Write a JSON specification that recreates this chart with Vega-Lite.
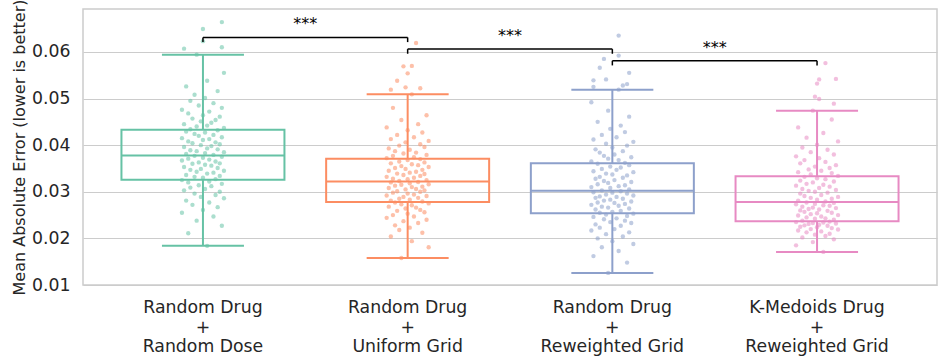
{
"$schema": "https://vega.github.io/schema/vega-lite/v6.json",
"width": 854, "height": 276,
"autosize": {"type": "none"},
"padding": {"left": 83, "top": 9, "right": 10, "bottom": 79},
"background": "white",
"config": {
  "font": "DejaVu Sans",
  "view": {"stroke": "#cccccc", "strokeWidth": 1.5},
  "axis": {"labelColor": "#262626", "titleColor": "#262626", "domain": false, "ticks": false, "tickSize": 0}
},
"datasets": {
"pts": [
{"g":"A","v":0.0184,"j":2},{"g":"A","v":0.0211,"j":-7},{"g":"A","v":0.0227,"j":9},{"g":"A","v":0.0238,"j":-3},{"g":"A","v":0.0247,"j":5},{"g":"A","v":0.0255,"j":-10},{"g":"A","v":0.0261,"j":0},{"g":"A","v":0.0267,"j":7},{"g":"A","v":0.0272,"j":-5},{"g":"A","v":0.0277,"j":3},
{"g":"A","v":0.0281,"j":-8},{"g":"A","v":0.0286,"j":10},{"g":"A","v":0.0289,"j":-1},{"g":"A","v":0.0293,"j":6},{"g":"A","v":0.0296,"j":-4},{"g":"A","v":0.0300,"j":8},{"g":"A","v":0.0303,"j":-9},{"g":"A","v":0.0306,"j":1},{"g":"A","v":0.0309,"j":-6},{"g":"A","v":0.0312,"j":4},
{"g":"A","v":0.0314,"j":-2},{"g":"A","v":0.0317,"j":9},{"g":"A","v":0.0320,"j":-7},{"g":"A","v":0.0322,"j":3},{"g":"A","v":0.0325,"j":-10},{"g":"A","v":0.0327,"j":6},{"g":"A","v":0.0330,"j":0},{"g":"A","v":0.0332,"j":-4},{"g":"A","v":0.0334,"j":8},{"g":"A","v":0.0336,"j":-8},
{"g":"A","v":0.0339,"j":2},{"g":"A","v":0.0341,"j":5},{"g":"A","v":0.0343,"j":-3},{"g":"A","v":0.0345,"j":10},{"g":"A","v":0.0347,"j":-6},{"g":"A","v":0.0349,"j":-1},{"g":"A","v":0.0351,"j":7},{"g":"A","v":0.0353,"j":-9},{"g":"A","v":0.0356,"j":4},{"g":"A","v":0.0358,"j":1},
{"g":"A","v":0.0360,"j":-5},{"g":"A","v":0.0361,"j":8},{"g":"A","v":0.0363,"j":-2},{"g":"A","v":0.0365,"j":6},{"g":"A","v":0.0367,"j":-10},{"g":"A","v":0.0369,"j":3},{"g":"A","v":0.0371,"j":-7},{"g":"A","v":0.0373,"j":0},{"g":"A","v":0.0375,"j":9},{"g":"A","v":0.0377,"j":-4},
{"g":"A","v":0.0379,"j":5},{"g":"A","v":0.0381,"j":-8},{"g":"A","v":0.0383,"j":1},{"g":"A","v":0.0385,"j":10},{"g":"A","v":0.0387,"j":-3},{"g":"A","v":0.0389,"j":-6},{"g":"A","v":0.0391,"j":7},{"g":"A","v":0.0393,"j":2},{"g":"A","v":0.0396,"j":-9},{"g":"A","v":0.0398,"j":4},
{"g":"A","v":0.0400,"j":-1},{"g":"A","v":0.0402,"j":8},{"g":"A","v":0.0404,"j":-5},{"g":"A","v":0.0406,"j":6},{"g":"A","v":0.0408,"j":-7},{"g":"A","v":0.0411,"j":0},{"g":"A","v":0.0413,"j":3},{"g":"A","v":0.0415,"j":-10},{"g":"A","v":0.0417,"j":9},{"g":"A","v":0.0420,"j":-2},
{"g":"A","v":0.0422,"j":5},{"g":"A","v":0.0424,"j":-4},{"g":"A","v":0.0427,"j":1},{"g":"A","v":0.0429,"j":-8},{"g":"A","v":0.0432,"j":7},{"g":"A","v":0.0434,"j":-6},{"g":"A","v":0.0437,"j":10},{"g":"A","v":0.0440,"j":-3},{"g":"A","v":0.0442,"j":2},{"g":"A","v":0.0445,"j":-9},
{"g":"A","v":0.0448,"j":4},{"g":"A","v":0.0451,"j":-1},{"g":"A","v":0.0454,"j":6},{"g":"A","v":0.0457,"j":-5},{"g":"A","v":0.0461,"j":8},{"g":"A","v":0.0464,"j":0},{"g":"A","v":0.0468,"j":-7},{"g":"A","v":0.0472,"j":3},{"g":"A","v":0.0476,"j":-10},{"g":"A","v":0.0480,"j":9},
{"g":"A","v":0.0485,"j":-2},{"g":"A","v":0.0490,"j":5},{"g":"A","v":0.0495,"j":-6},{"g":"A","v":0.0501,"j":1},{"g":"A","v":0.0508,"j":-4},{"g":"A","v":0.0516,"j":7},{"g":"A","v":0.0526,"j":-8},{"g":"A","v":0.0538,"j":2},{"g":"A","v":0.0555,"j":10},{"g":"A","v":0.0594,"j":-3},
{"g":"A","v":0.0607,"j":-9},{"g":"A","v":0.0610,"j":9},{"g":"A","v":0.0623,"j":0},{"g":"A","v":0.0649,"j":0},{"g":"A","v":0.0664,"j":9},
{"g":"B","v":0.0158,"j":-3},{"g":"B","v":0.0181,"j":10},{"g":"B","v":0.0194,"j":2},{"g":"B","v":0.0204,"j":-8},{"g":"B","v":0.0212,"j":7},{"g":"B","v":0.0218,"j":-4},{"g":"B","v":0.0223,"j":1},{"g":"B","v":0.0228,"j":-6},{"g":"B","v":0.0233,"j":5},{"g":"B","v":0.0237,"j":-2},
{"g":"B","v":0.0240,"j":9},{"g":"B","v":0.0244,"j":-10},{"g":"B","v":0.0247,"j":3},{"g":"B","v":0.0250,"j":-7},{"g":"B","v":0.0253,"j":0},{"g":"B","v":0.0256,"j":8},{"g":"B","v":0.0259,"j":-5},{"g":"B","v":0.0261,"j":6},{"g":"B","v":0.0264,"j":-1},{"g":"B","v":0.0266,"j":4},
{"g":"B","v":0.0268,"j":-9},{"g":"B","v":0.0271,"j":2},{"g":"B","v":0.0273,"j":-3},{"g":"B","v":0.0275,"j":10},{"g":"B","v":0.0277,"j":-6},{"g":"B","v":0.0279,"j":7},{"g":"B","v":0.0281,"j":-8},{"g":"B","v":0.0283,"j":1},{"g":"B","v":0.0285,"j":-4},{"g":"B","v":0.0287,"j":5},
{"g":"B","v":0.0289,"j":-2},{"g":"B","v":0.0291,"j":9},{"g":"B","v":0.0292,"j":-10},{"g":"B","v":0.0294,"j":3},{"g":"B","v":0.0296,"j":0},{"g":"B","v":0.0298,"j":-7},{"g":"B","v":0.0300,"j":6},{"g":"B","v":0.0301,"j":-5},{"g":"B","v":0.0303,"j":8},{"g":"B","v":0.0305,"j":-1},
{"g":"B","v":0.0306,"j":4},{"g":"B","v":0.0308,"j":-9},{"g":"B","v":0.0310,"j":2},{"g":"B","v":0.0311,"j":7},{"g":"B","v":0.0313,"j":-6},{"g":"B","v":0.0315,"j":-3},{"g":"B","v":0.0316,"j":10},{"g":"B","v":0.0318,"j":1},{"g":"B","v":0.0320,"j":-8},{"g":"B","v":0.0321,"j":5},
{"g":"B","v":0.0323,"j":-4},{"g":"B","v":0.0325,"j":9},{"g":"B","v":0.0327,"j":0},{"g":"B","v":0.0328,"j":-7},{"g":"B","v":0.0330,"j":3},{"g":"B","v":0.0332,"j":-10},{"g":"B","v":0.0334,"j":6},{"g":"B","v":0.0336,"j":-2},{"g":"B","v":0.0338,"j":8},{"g":"B","v":0.0339,"j":-5},
{"g":"B","v":0.0341,"j":1},{"g":"B","v":0.0343,"j":4},{"g":"B","v":0.0345,"j":-9},{"g":"B","v":0.0347,"j":7},{"g":"B","v":0.0349,"j":-1},{"g":"B","v":0.0351,"j":-6},{"g":"B","v":0.0353,"j":10},{"g":"B","v":0.0355,"j":-3},{"g":"B","v":0.0357,"j":5},{"g":"B","v":0.0359,"j":2},
{"g":"B","v":0.0361,"j":-8},{"g":"B","v":0.0363,"j":8},{"g":"B","v":0.0365,"j":-4},{"g":"B","v":0.0368,"j":0},{"g":"B","v":0.0370,"j":6},{"g":"B","v":0.0372,"j":-10},{"g":"B","v":0.0374,"j":3},{"g":"B","v":0.0377,"j":-7},{"g":"B","v":0.0379,"j":9},{"g":"B","v":0.0382,"j":-2},
{"g":"B","v":0.0384,"j":4},{"g":"B","v":0.0387,"j":-6},{"g":"B","v":0.0390,"j":1},{"g":"B","v":0.0393,"j":-9},{"g":"B","v":0.0396,"j":8},{"g":"B","v":0.0399,"j":-4},{"g":"B","v":0.0402,"j":6},{"g":"B","v":0.0406,"j":-1},{"g":"B","v":0.0409,"j":10},{"g":"B","v":0.0413,"j":-8},
{"g":"B","v":0.0417,"j":3},{"g":"B","v":0.0422,"j":-5},{"g":"B","v":0.0427,"j":7},{"g":"B","v":0.0432,"j":0},{"g":"B","v":0.0438,"j":-10},{"g":"B","v":0.0445,"j":5},{"g":"B","v":0.0454,"j":-3},{"g":"B","v":0.0464,"j":9},{"g":"B","v":0.0480,"j":-7},{"g":"B","v":0.0509,"j":2},
{"g":"B","v":0.0519,"j":-8},{"g":"B","v":0.0522,"j":6},{"g":"B","v":0.0524,"j":-1},{"g":"B","v":0.0538,"j":-5},{"g":"B","v":0.0554,"j":0},{"g":"B","v":0.0569,"j":-2},{"g":"B","v":0.0570,"j":2},{"g":"B","v":0.0619,"j":4},
{"g":"C","v":0.0126,"j":-2},{"g":"C","v":0.0148,"j":7},{"g":"C","v":0.0162,"j":-9},{"g":"C","v":0.0173,"j":3},{"g":"C","v":0.0181,"j":-5},{"g":"C","v":0.0188,"j":10},{"g":"C","v":0.0194,"j":0},{"g":"C","v":0.0200,"j":-7},{"g":"C","v":0.0204,"j":5},{"g":"C","v":0.0209,"j":-3},
{"g":"C","v":0.0213,"j":8},{"g":"C","v":0.0217,"j":-10},{"g":"C","v":0.0220,"j":1},{"g":"C","v":0.0223,"j":-6},{"g":"C","v":0.0227,"j":4},{"g":"C","v":0.0230,"j":-8},{"g":"C","v":0.0233,"j":9},{"g":"C","v":0.0235,"j":-1},{"g":"C","v":0.0238,"j":6},{"g":"C","v":0.0241,"j":-4},
{"g":"C","v":0.0243,"j":2},{"g":"C","v":0.0246,"j":-9},{"g":"C","v":0.0248,"j":7},{"g":"C","v":0.0251,"j":-3},{"g":"C","v":0.0253,"j":10},{"g":"C","v":0.0255,"j":-6},{"g":"C","v":0.0257,"j":0},{"g":"C","v":0.0259,"j":4},{"g":"C","v":0.0262,"j":-8},{"g":"C","v":0.0264,"j":8},
{"g":"C","v":0.0266,"j":-2},{"g":"C","v":0.0268,"j":-5},{"g":"C","v":0.0270,"j":3},{"g":"C","v":0.0272,"j":-10},{"g":"C","v":0.0274,"j":6},{"g":"C","v":0.0276,"j":1},{"g":"C","v":0.0277,"j":-7},{"g":"C","v":0.0279,"j":9},{"g":"C","v":0.0281,"j":-4},{"g":"C","v":0.0283,"j":-1},
{"g":"C","v":0.0285,"j":5},{"g":"C","v":0.0287,"j":-8},{"g":"C","v":0.0289,"j":2},{"g":"C","v":0.0290,"j":-6},{"g":"C","v":0.0292,"j":10},{"g":"C","v":0.0294,"j":-3},{"g":"C","v":0.0296,"j":7},{"g":"C","v":0.0298,"j":0},{"g":"C","v":0.0299,"j":-9},{"g":"C","v":0.0301,"j":4},
{"g":"C","v":0.0303,"j":-5},{"g":"C","v":0.0305,"j":8},{"g":"C","v":0.0308,"j":-1},{"g":"C","v":0.0310,"j":-10},{"g":"C","v":0.0312,"j":3},{"g":"C","v":0.0314,"j":6},{"g":"C","v":0.0316,"j":-7},{"g":"C","v":0.0319,"j":-2},{"g":"C","v":0.0321,"j":9},{"g":"C","v":0.0323,"j":-4},
{"g":"C","v":0.0325,"j":1},{"g":"C","v":0.0328,"j":-8},{"g":"C","v":0.0330,"j":5},{"g":"C","v":0.0332,"j":-6},{"g":"C","v":0.0335,"j":7},{"g":"C","v":0.0337,"j":0},{"g":"C","v":0.0339,"j":-3},{"g":"C","v":0.0342,"j":10},{"g":"C","v":0.0344,"j":-9},{"g":"C","v":0.0347,"j":2},
{"g":"C","v":0.0349,"j":-5},{"g":"C","v":0.0352,"j":4},{"g":"C","v":0.0354,"j":-1},{"g":"C","v":0.0357,"j":8},{"g":"C","v":0.0360,"j":-7},{"g":"C","v":0.0362,"j":6},{"g":"C","v":0.0365,"j":-10},{"g":"C","v":0.0368,"j":3},{"g":"C","v":0.0371,"j":-2},{"g":"C","v":0.0374,"j":9},
{"g":"C","v":0.0377,"j":-4},{"g":"C","v":0.0380,"j":1},{"g":"C","v":0.0384,"j":-6},{"g":"C","v":0.0387,"j":5},{"g":"C","v":0.0391,"j":-8},{"g":"C","v":0.0395,"j":0},{"g":"C","v":0.0399,"j":7},{"g":"C","v":0.0403,"j":-3},{"g":"C","v":0.0407,"j":10},{"g":"C","v":0.0412,"j":-9},
{"g":"C","v":0.0417,"j":2},{"g":"C","v":0.0422,"j":-5},{"g":"C","v":0.0428,"j":6},{"g":"C","v":0.0435,"j":-1},{"g":"C","v":0.0442,"j":4},{"g":"C","v":0.0450,"j":-7},{"g":"C","v":0.0461,"j":8},{"g":"C","v":0.0474,"j":-2},{"g":"C","v":0.0492,"j":-10},{"g":"C","v":0.0519,"j":3},
{"g":"C","v":0.0525,"j":-9},{"g":"C","v":0.0528,"j":5},{"g":"C","v":0.0531,"j":7},{"g":"C","v":0.0539,"j":-9},{"g":"C","v":0.0541,"j":-3},{"g":"C","v":0.0555,"j":8},{"g":"C","v":0.0566,"j":-6},{"g":"C","v":0.0585,"j":-4},{"g":"C","v":0.0592,"j":3},{"g":"C","v":0.0635,"j":3},
{"g":"D","v":0.0171,"j":3},{"g":"D","v":0.0185,"j":-10},{"g":"D","v":0.0192,"j":-2},{"g":"D","v":0.0198,"j":8},{"g":"D","v":0.0202,"j":-7},{"g":"D","v":0.0205,"j":4},{"g":"D","v":0.0208,"j":-1},{"g":"D","v":0.0210,"j":6},{"g":"D","v":0.0213,"j":-5},{"g":"D","v":0.0215,"j":2},
{"g":"D","v":0.0217,"j":-9},{"g":"D","v":0.0219,"j":10},{"g":"D","v":0.0220,"j":-3},{"g":"D","v":0.0222,"j":7},{"g":"D","v":0.0224,"j":0},{"g":"D","v":0.0225,"j":-8},{"g":"D","v":0.0227,"j":5},{"g":"D","v":0.0228,"j":-6},{"g":"D","v":0.0229,"j":1},{"g":"D","v":0.0231,"j":-4},
{"g":"D","v":0.0232,"j":9},{"g":"D","v":0.0233,"j":-2},{"g":"D","v":0.0234,"j":3},{"g":"D","v":0.0235,"j":-10},{"g":"D","v":0.0236,"j":6},{"g":"D","v":0.0238,"j":-7},{"g":"D","v":0.0240,"j":8},{"g":"D","v":0.0242,"j":-1},{"g":"D","v":0.0243,"j":4},{"g":"D","v":0.0245,"j":-5},
{"g":"D","v":0.0247,"j":2},{"g":"D","v":0.0249,"j":-9},{"g":"D","v":0.0250,"j":10},{"g":"D","v":0.0252,"j":-3},{"g":"D","v":0.0254,"j":0},{"g":"D","v":0.0255,"j":7},{"g":"D","v":0.0257,"j":-6},{"g":"D","v":0.0259,"j":5},{"g":"D","v":0.0260,"j":-8},{"g":"D","v":0.0262,"j":1},
{"g":"D","v":0.0263,"j":-4},{"g":"D","v":0.0265,"j":9},{"g":"D","v":0.0266,"j":-2},{"g":"D","v":0.0268,"j":-7},{"g":"D","v":0.0270,"j":6},{"g":"D","v":0.0271,"j":3},{"g":"D","v":0.0273,"j":-10},{"g":"D","v":0.0274,"j":-1},{"g":"D","v":0.0276,"j":8},{"g":"D","v":0.0277,"j":-5},
{"g":"D","v":0.0279,"j":4},{"g":"D","v":0.0281,"j":-9},{"g":"D","v":0.0283,"j":0},{"g":"D","v":0.0285,"j":7},{"g":"D","v":0.0287,"j":-3},{"g":"D","v":0.0289,"j":10},{"g":"D","v":0.0291,"j":-6},{"g":"D","v":0.0293,"j":2},{"g":"D","v":0.0296,"j":-8},{"g":"D","v":0.0298,"j":5},
{"g":"D","v":0.0300,"j":-1},{"g":"D","v":0.0302,"j":-4},{"g":"D","v":0.0304,"j":9},{"g":"D","v":0.0306,"j":-7},{"g":"D","v":0.0308,"j":1},{"g":"D","v":0.0311,"j":6},{"g":"D","v":0.0313,"j":-10},{"g":"D","v":0.0315,"j":3},{"g":"D","v":0.0317,"j":-5},{"g":"D","v":0.0320,"j":-2},
{"g":"D","v":0.0322,"j":8},{"g":"D","v":0.0324,"j":-8},{"g":"D","v":0.0327,"j":4},{"g":"D","v":0.0329,"j":0},{"g":"D","v":0.0332,"j":-6},{"g":"D","v":0.0334,"j":10},{"g":"D","v":0.0337,"j":-3},{"g":"D","v":0.0340,"j":7},{"g":"D","v":0.0342,"j":-9},{"g":"D","v":0.0345,"j":2},
{"g":"D","v":0.0348,"j":-4},{"g":"D","v":0.0351,"j":6},{"g":"D","v":0.0354,"j":-1},{"g":"D","v":0.0357,"j":9},{"g":"D","v":0.0361,"j":-8},{"g":"D","v":0.0364,"j":4},{"g":"D","v":0.0368,"j":-6},{"g":"D","v":0.0372,"j":1},{"g":"D","v":0.0376,"j":-10},{"g":"D","v":0.0380,"j":8},
{"g":"D","v":0.0385,"j":-3},{"g":"D","v":0.0390,"j":5},{"g":"D","v":0.0395,"j":-7},{"g":"D","v":0.0401,"j":0},{"g":"D","v":0.0408,"j":10},{"g":"D","v":0.0416,"j":-5},{"g":"D","v":0.0426,"j":3},{"g":"D","v":0.0438,"j":-9},{"g":"D","v":0.0455,"j":7},{"g":"D","v":0.0474,"j":-2},
{"g":"D","v":0.0489,"j":8},{"g":"D","v":0.0499,"j":1},{"g":"D","v":0.0504,"j":-1},{"g":"D","v":0.0532,"j":0},{"g":"D","v":0.0541,"j":1},{"g":"D","v":0.0542,"j":9},{"g":"D","v":0.0576,"j":4}
],
"box": [
{"g":"A","lo":0.0184,"q1":0.0326,"med":0.0378,"q3":0.0433,"hi":0.0594},
{"g":"B","lo":0.0158,"q1":0.0278,"med":0.0322,"q3":0.0371,"hi":0.0509},
{"g":"C","lo":0.0126,"q1":0.0254,"med":0.0302,"q3":0.0361,"hi":0.0519},
{"g":"D","lo":0.0171,"q1":0.0237,"med":0.0278,"q3":0.0333,"hi":0.0474}
],
"br": [
{"a":"A","b":"B","y":0.0631,"yb":0.0621,"s":"***"},
{"a":"B","b":"C","y":0.0606,"yb":0.0596,"s":"***"},
{"a":"C","b":"D","y":0.0581,"yb":0.0571,"s":"***"}
]
},
"layer": [
{
"data": {"name": "pts"},
"mark": {"type": "circle", "size": 19, "opacity": 0.55},
"encoding": {
  "x": {"field": "g", "type": "nominal",
    "scale": {"type": "band", "domain": ["A","B","C","D"], "paddingInner": 0, "paddingOuter": 0.086},
    "axis": {"title": null, "labelAngle": 0, "labelFontSize": 17.3, "labelLineHeight": 19.5, "labelPadding": 13.5, "grid": false,
      "labelExpr": "datum.value=='A'?['Random Drug','+','Random Dose']:datum.value=='B'?['Random Drug','+','Uniform Grid']:datum.value=='C'?['Random Drug','+','Reweighted Grid']:['K-Medoids Drug','+','Reweighted Grid']"}},
  "xOffset": {"field": "j", "type": "quantitative", "scale": {"domain": [-10, 10], "range": [81.35, 123.35]}},
  "y": {"field": "v", "type": "quantitative",
    "scale": {"domain": [0.01, 0.0692], "nice": false, "zero": false},
    "axis": {"title": "Mean Absolute Error (lower is better)", "values": [0.01,0.02,0.03,0.04,0.05,0.06], "format": ".2f",
      "labelFontSize": 17.3, "titleFontSize": 16, "titleFontWeight": "normal", "labelPadding": 13, "titlePadding": 4,
      "grid": true, "gridColor": "#cccccc", "gridWidth": 1.2}},
  "color": {"field": "g", "type": "nominal", "scale": {"domain": ["A","B","C","D"], "range": ["#66c2a5","#fc8d62","#8da0cb","#e78ac3"]}, "legend": null}
}
},
{
"data": {"name": "box"},
"mark": {"type": "rule", "strokeWidth": 2, "opacity": 1},
"encoding": {
  "x": {"field": "g", "type": "nominal"},
  "y": {"field": "lo", "type": "quantitative", "scale": {"domain": [0.01, 0.0692], "nice": false, "zero": false}},
  "y2": {"field": "q1"},
  "color": {"field": "g", "type": "nominal", "legend": null}
}
},
{
"data": {"name": "box"},
"mark": {"type": "rule", "strokeWidth": 2, "opacity": 1},
"encoding": {
  "x": {"field": "g", "type": "nominal"},
  "y": {"field": "q3", "type": "quantitative", "scale": {"domain": [0.01, 0.0692], "nice": false, "zero": false}},
  "y2": {"field": "hi"},
  "color": {"field": "g", "type": "nominal", "legend": null}
}
},
{
"data": {"name": "box"},
"mark": {"type": "bar", "filled": false, "strokeWidth": 2, "width": 163, "opacity": 1},
"encoding": {
  "x": {"field": "g", "type": "nominal"},
  "y": {"field": "q1", "type": "quantitative", "scale": {"domain": [0.01, 0.0692], "nice": false, "zero": false}},
  "y2": {"field": "q3"},
  "color": {"field": "g", "type": "nominal", "legend": null}
}
},
{
"data": {"name": "box"},
"mark": {"type": "tick", "size": 163, "thickness": 2, "opacity": 1},
"encoding": {
  "x": {"field": "g", "type": "nominal"},
  "y": {"field": "med", "type": "quantitative", "scale": {"domain": [0.01, 0.0692], "nice": false, "zero": false}},
  "color": {"field": "g", "type": "nominal", "legend": null}
}
},
{
"data": {"name": "box"},
"mark": {"type": "tick", "size": 82, "thickness": 2, "opacity": 1},
"encoding": {
  "x": {"field": "g", "type": "nominal"},
  "y": {"field": "lo", "type": "quantitative", "scale": {"domain": [0.01, 0.0692], "nice": false, "zero": false}},
  "color": {"field": "g", "type": "nominal", "legend": null}
}
},
{
"data": {"name": "box"},
"mark": {"type": "tick", "size": 82, "thickness": 2, "opacity": 1},
"encoding": {
  "x": {"field": "g", "type": "nominal"},
  "y": {"field": "hi", "type": "quantitative", "scale": {"domain": [0.01, 0.0692], "nice": false, "zero": false}},
  "color": {"field": "g", "type": "nominal", "legend": null}
}
},
{
"data": {"name": "br"},
"mark": {"type": "rule", "color": "black", "strokeWidth": 1.5},
"encoding": {
  "x": {"field": "a", "type": "nominal", "bandPosition": 0.5},
  "x2": {"field": "b", "bandPosition": 0.5},
  "y": {"field": "y", "type": "quantitative", "scale": {"domain": [0.01, 0.0692], "nice": false, "zero": false}}
}
},
{
"data": {"name": "br"},
"mark": {"type": "rule", "color": "black", "strokeWidth": 1.5},
"encoding": {
  "x": {"field": "a", "type": "nominal"},
  "y": {"field": "y", "type": "quantitative", "scale": {"domain": [0.01, 0.0692], "nice": false, "zero": false}},
  "y2": {"field": "yb"}
}
},
{
"data": {"name": "br"},
"mark": {"type": "rule", "color": "black", "strokeWidth": 1.5},
"encoding": {
  "x": {"field": "b", "type": "nominal"},
  "y": {"field": "y", "type": "quantitative", "scale": {"domain": [0.01, 0.0692], "nice": false, "zero": false}},
  "y2": {"field": "yb"}
}
},
{
"data": {"name": "br"},
"mark": {"type": "text", "color": "black", "fontSize": 16, "align": "center", "baseline": "alphabetic", "dy": -8},
"encoding": {
  "x": {"field": "a", "type": "nominal", "bandPosition": 1},
  "y": {"field": "y", "type": "quantitative", "scale": {"domain": [0.01, 0.0692], "nice": false, "zero": false}},
  "text": {"field": "s"}
}
}
]
}
